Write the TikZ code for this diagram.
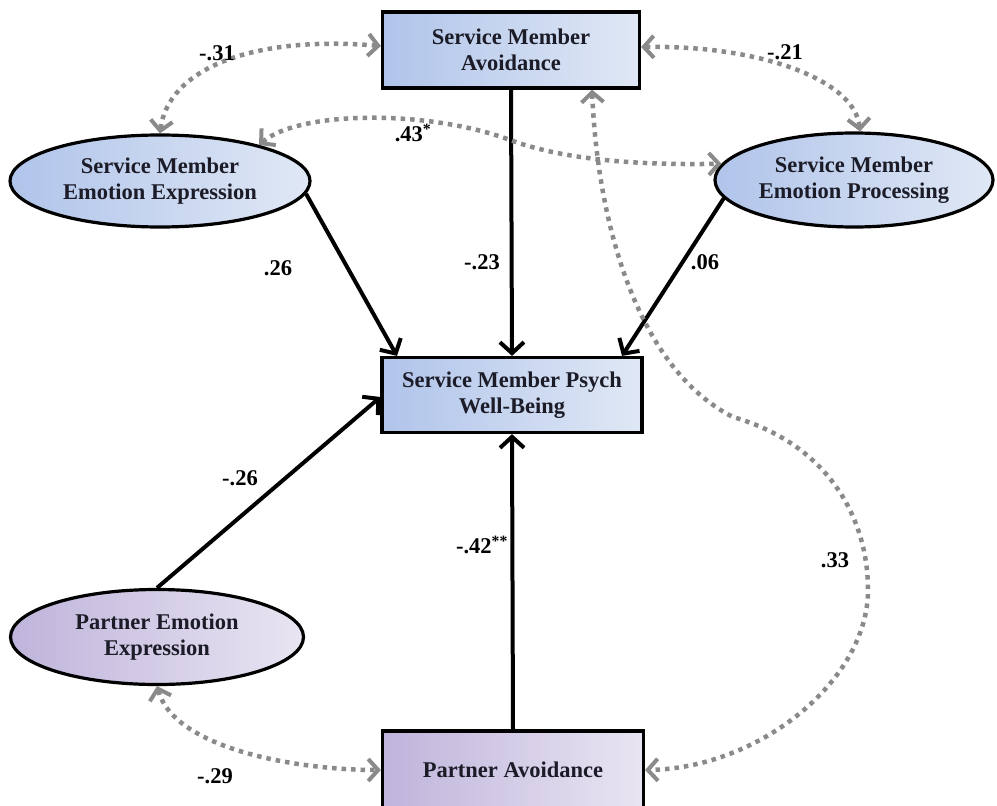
\documentclass[tikz,border=0pt]{standalone}
\usepackage{fontspec}
\setmainfont{Liberation Serif}
\usetikzlibrary{arrows.meta,shapes.geometric}
\definecolor{blueA}{HTML}{B0C4EA}
\definecolor{blueB}{HTML}{E0E8F5}
\definecolor{purA}{HTML}{BFB4DB}
\definecolor{purB}{HTML}{E9E5F2}
\definecolor{dotgray}{HTML}{8A8A8A}
\definecolor{txt}{HTML}{1C1C28}
\begin{document}
\begin{tikzpicture}[x=1pt,y=-1pt,
  txtfont/.style={font=\fontsize{22.5}{26}\selectfont\bfseries, text=txt},
  boxbase/.style={txtfont, draw=black, line width=3.2pt, align=center, inner sep=0pt},
  bluebox/.style={boxbase, rectangle, left color=blueA, right color=blueB},
  purbox/.style={boxbase, rectangle, left color=purA, right color=purB},
  blueell/.style={boxbase, ellipse, left color=blueA, right color=blueB},
  purell/.style={boxbase, ellipse, left color=purA, right color=purB},
  coef/.style={txtfont, text=black, inner sep=1pt},
  blk/.style={draw=black, line width=4pt, -{Straight Barb[length=11pt,width=24pt,line width=4pt]}},
  dotarrow/.style={draw=dotgray, line width=4.5pt, dash pattern=on 4.5pt off 5pt,
     {Straight Barb[length=10pt,width=22pt,line width=4pt]}-{Straight Barb[length=10pt,width=22pt,line width=4pt]}}
]
\useasboundingbox (0,0) rectangle (997,806);
\clip (0,0) rectangle (997,806);

% nodes
\node[bluebox, minimum width=257pt, minimum height=76pt] (sma) at (511,50) {Service Member\\Avoidance};
\node[blueell, minimum width=300pt, minimum height=92pt] (ee) at (160,181) {Service Member\\Emotion Expression};
\node[blueell, minimum width=278pt, minimum height=94pt] (ep) at (854,180) {Service Member\\Emotion Processing};
\node[bluebox, minimum width=260pt, minimum height=75pt] (smp) at (512,395) {Service Member Psych\\Well-Being};
\node[purell, minimum width=293pt, minimum height=95pt] (pee) at (157,637) {Partner Emotion\\Expression};
\node[purbox, minimum width=261pt, minimum height=78pt] (pa) at (513,770) {Partner Avoidance};

% directed paths
\draw[blk] (sma.south) -- (smp.north);
\draw[blk] (ee.-5) -- ([xshift=-115pt]smp.north);
\draw[blk] (ep.188) -- ([xshift=110pt]smp.north);
\draw[blk] (pee.north) -- ([yshift=-2pt]smp.west);
\draw[blk] (pa.north) -- (smp.south);

% correlations
\draw[dotarrow] ([yshift=4pt]sma.west) .. controls (250,35) and (168,70) .. (ee.north);
\draw[dotarrow] ([yshift=3pt]sma.east) .. controls (760,45) and (855,80) .. ([xshift=6pt]ep.north);
\draw[dotarrow] (ee.20) .. controls (300,110) and (430,110) .. (510,140) .. controls (570,162) and (650,165) .. (ep.173);
\draw[dotarrow] (pee.south) .. controls (175,750) and (300,770) .. (pa.west);
\draw[dotarrow] ([xshift=81pt]sma.south) .. controls (598,230) and (640,370) .. (733,417)
   .. controls (830,445) and (868,520) .. (868,590) .. controls (868,680) and (760,768) .. (pa.east);

% coefficients
\node[coef] (c31) at (217,53) {-.31};
\node[coef] (c21) at (785,52) {-.21};
\node[coef] (c43) at (413,133) {.43\textsuperscript{*}};
\node[coef] (c26) at (278,268) {.26};
\node[coef] (c23) at (482,262) {-.23};
\node[coef] (c06) at (705,262) {.06};
\node[coef] (cm26) at (240,478) {-.26};
\node[coef] (c42) at (482,545) {-.42\textsuperscript{**}};
\node[coef] (c33) at (835,560) {.33};
\node[coef] (c29) at (215,776) {-.29};
\end{tikzpicture}
\end{document}
